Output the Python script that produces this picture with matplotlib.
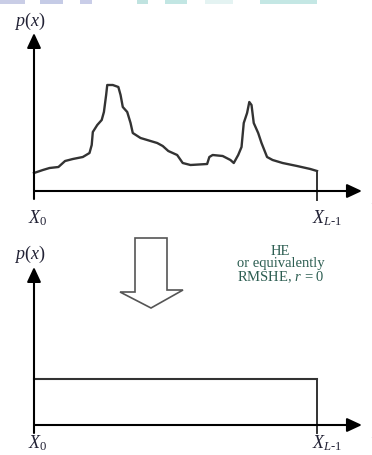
import numpy as np
import matplotlib
matplotlib.use("Agg")
import matplotlib.pyplot as plt
from matplotlib.patches import Polygon, Rectangle

plt.rcParams['mathtext.fontset'] = 'custom'
plt.rcParams['mathtext.rm'] = 'Liberation Serif'
plt.rcParams['mathtext.it'] = 'Liberation Serif:italic'
plt.rcParams['font.family'] = ['Liberation Serif', 'DejaVu Serif']

# gray levels (0 .. L-1) and the original histogram p(x)
levels = [0, 8, 14, 22, 28, 35, 44, 50, 52, 53, 57, 61, 63, 65, 66, 71, 76, 78,
          80, 84, 87, 89, 96, 102, 111, 116, 121, 129, 134, 141, 156, 158, 161,
          170, 177, 180, 184, 187, 189, 192, 194, 196, 198, 202, 205, 210, 215,
          224, 237, 249, 255]
p_orig = [0.18, 0.21, 0.23, 0.24, 0.30, 0.32, 0.34, 0.38, 0.46, 0.59, 0.66,
          0.71, 0.79, 0.96, 1.06, 1.06, 1.04, 0.96, 0.84, 0.79, 0.68, 0.58,
          0.53, 0.51, 0.48, 0.45, 0.40, 0.36, 0.28, 0.26, 0.27, 0.34, 0.36,
          0.35, 0.31, 0.28, 0.36, 0.44, 0.68, 0.78, 0.89, 0.86, 0.68, 0.58,
          0.48, 0.34, 0.31, 0.28, 0.25, 0.22, 0.20]
# after HE: flat histogram
flat_levels = [0, 255]
p_flat = [0.46, 0.46]

L_MAX = 255
caption = "HE\nor equivalently\nRMSHE, $r$ = 0"

W, H = 372, 455
fig = plt.figure(figsize=(W / 100, H / 100), dpi=100)

k = 255 / 283.0  # gray levels per pixel


def make_axes(top_px, bot_px, origin_px):
    ax = fig.add_axes([0, 1 - bot_px / H, 1, (bot_px - top_px) / H])
    ax.set_xlim(-34 * k, (W - 34) * k)
    ax.set_ylim((origin_px - bot_px) / 100, (origin_px - top_px) / 100)
    ax.axis('off')
    return ax


def draw_frame(ax, ylab_y, xlab_y):
    arr = dict(arrowstyle='-|>,head_length=0.9,head_width=0.42', lw=1.5,
               color='black', shrinkA=0, shrinkB=0)
    ax.annotate('', xy=(0, 1.58), xytext=(0, -0.08), arrowprops=arr)
    ax.annotate('', xy=(295.5, 0), xytext=(0, 0), arrowprops=arr)
    ax.text(-3.5, ylab_y, '$p(x)$', fontsize=13, ha='center', va='center',
            color='#222235')
    ax.text(3, xlab_y, '$X_0$', fontsize=13, ha='center', va='center',
            color='#222235')
    ax.text(264, xlab_y, '$X_{L\\text{-}1}$', fontsize=13, ha='center',
            va='center', color='#222235')
    ax.text(304, -0.09, '$x$', fontsize=11, ha='left', va='center',
            color='#555566')


# top: original histogram
ax1 = make_axes(0, 230, 191)
draw_frame(ax1, 1.70, -0.27)
ax1.plot(levels, p_orig, color='#333333', lw=1.7, solid_joinstyle='round')
ax1.plot([L_MAX, L_MAX], [p_orig[-1], -0.09], color='#333333', lw=1.4)

# bottom: equalized histogram
ax2 = make_axes(230, 455, 425)
draw_frame(ax2, 1.71, -0.18)
ax2.plot(flat_levels, p_flat, color='#333333', lw=1.5)
ax2.plot([L_MAX, L_MAX], [p_flat[-1], -0.08], color='#333333', lw=1.4)
ax2.text(222, 1.60, caption, fontsize=10.5, ha='center', va='center',
         color='#2d5e52', linespacing=0.95)

# hollow down arrow between the two plots (figure pixel coords)
arrow_px = [(135, 238), (167, 238), (167, 290), (183, 290), (151, 308),
            (120, 292), (135, 292)]
arrow_fig = [(x / W, 1 - y / H) for x, y in arrow_px]
fig.patches.append(Polygon(arrow_fig, closed=True, facecolor='white',
                           edgecolor='#555555', lw=1.2,
                           transform=fig.transFigure, figure=fig))

# page header strip
strip = [(0, 25, '#c9cde6'), (40, 63, '#c5cbe6'), (80, 92, '#c9cde8'),
         (137, 148, '#c0e3e0'), (165, 187, '#c2e6e3'), (205, 233, '#e4f3f2'),
         (260, 317, '#c4e7e4')]
for x0, x1, c in strip:
    fig.patches.append(Rectangle((x0 / W, 1 - 4 / H), (x1 - x0) / W, 4 / H,
                                 facecolor=c, edgecolor='none',
                                 transform=fig.transFigure, figure=fig))

fig.savefig('out.png', dpi=100)
